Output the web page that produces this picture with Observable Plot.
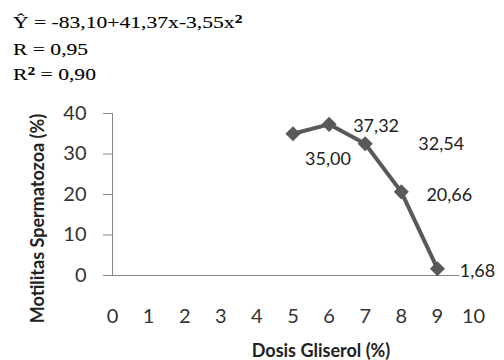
<!DOCTYPE html>
<html>
<head>
<meta charset="utf-8">
<script src="https://cdn.jsdelivr.net/npm/d3@7"></script>
<script src="https://cdn.jsdelivr.net/npm/@observablehq/plot@0.6"></script>
<style>
  html, body { margin: 0; padding: 0; background: #fff; }
  #wrap { width: 504px; height: 360px; overflow: hidden; }
  #header { position: relative; height: 90px; width: 504px; font-family: "Liberation Serif", "Times New Roman", serif; font-size: 17px; color: #000; -webkit-text-stroke: 0.1px #000; }
  #header .ln { position: absolute; left: 13px; white-space: nowrap; transform: scaleX(1.27); transform-origin: 0 0; line-height: 20px; }
  #header sup { font-size: 0.72em; font-weight: bold; vertical-align: baseline; position: relative; top: -0.45em; }
</style>
</head>
<body>
<div id="wrap">
  <div id="header">
    <div class="ln" style="top:13px">Ŷ = -83,10+41,37x-3,55x<sup>2</sup></div>
    <div class="ln" style="top:40px">R = 0,95</div>
    <div class="ln" style="top:65px">R<sup>2</sup> = 0,90</div>
  </div>
  <div id="chart"></div>
</div>
<script>
// Data
const doses = [5, 6, 7, 8, 9];
const motility = [35.00, 37.32, 32.54, 20.66, 1.68];
const valueLabels = ["35,00", "37,32", "32,54", "20,66", "1,68"];
const xTicks = [0, 1, 2, 3, 4, 5, 6, 7, 8, 9, 10];
const yTicks = [0, 10, 20, 30, 40];
const xTitle = "Dosis Gliserol (%)";
const yTitle = "Motilitas Spermatozoa (%)";

// Label placement offsets (layout only)
const labelDx = [35, 47, 76, 48, 40];
const labelDy = [25, 2, 1, 3, 3];

const rows = doses.map((d, i) => ({dose: d, value: motility[i], label: valueLabels[i], i}));

const axisColor = "#868686";
const seriesColor = "#595959";

const chart = Plot.plot({
  width: 504,
  height: 270,
  marginLeft: 112,
  marginRight: 31,
  marginTop: 23,
  marginBottom: 85,
  style: {fontFamily: "Lato, 'Open Sans', sans-serif", fontSize: "20px", background: "#fff", color: "#333", overflow: "visible"},
  x: {domain: [0, 10], label: null},
  y: {domain: [0, 40], label: null},
  marks: [
    Plot.axisY(yTicks, {tickSize: 9, tickPadding: 17, stroke: axisColor, fill: "#333", fontSize: 20, label: null}),
    Plot.axisX(xTicks, {tickSize: 0, tickPadding: 33, fill: "#333", fontSize: 20, label: null}),
    Plot.ruleX([0], {y1: 0, y2: 40, stroke: axisColor, strokeWidth: 1}),
    Plot.ruleY([0], {x1: 0, x2: 10, stroke: axisColor, strokeWidth: 1}),
    Plot.line(rows, {x: "dose", y: "value", stroke: seriesColor, strokeWidth: 4}),
    Plot.dot(rows, {x: "dose", y: "value", symbol: "diamond2", r: 6.8, fill: seriesColor, stroke: "none"}),
    ...rows.map(r => Plot.text([r], {
      x: "dose", y: "value", text: "label",
      dx: labelDx[r.i], dy: labelDy[r.i],
      fontSize: 18, fill: "#222", stroke: "white", strokeWidth: 5, paintOrder: "stroke"
    })),
    Plot.text([xTitle], {frameAnchor: "bottom", textAnchor: "middle", lineAnchor: "middle", dx: 28, dy: 76, fontSize: 18, fontWeight: "bold", fill: "#222"}),
    Plot.text([yTitle], {frameAnchor: "left", textAnchor: "middle", lineAnchor: "middle", rotate: -90, dx: -74, dy: 24, fontSize: 18, fontWeight: "bold", fill: "#222"})
  ]
});
document.getElementById("chart").appendChild(chart);
</script>
</body>
</html>
